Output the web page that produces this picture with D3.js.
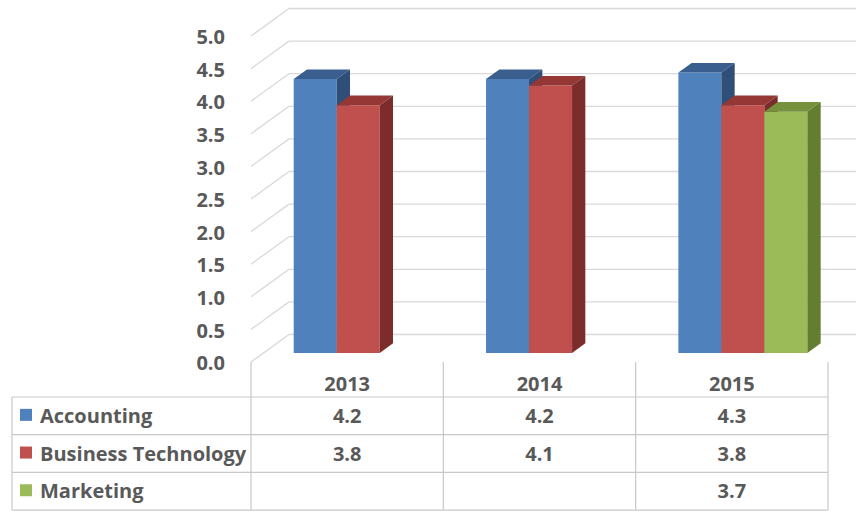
<!DOCTYPE html>
<html>
<head>
<meta charset="utf-8">
<script src="https://cdn.jsdelivr.net/npm/d3@7"></script>
<style>
  html, body { margin: 0; padding: 0; background: #fff; }
  svg { display: block; }
  text { font-family: "Open Sans", Lato, sans-serif; font-weight: bold; fill: #595959; }
</style>
</head>
<body>
<svg id="chart" width="856" height="512"></svg>
<script>
// ---- data ----
const categories = ["2013", "2014", "2015"];
const seriesNames = ["Accounting", "Business Technology", "Marketing"];
const accounting = [4.2, 4.2, 4.3];
const businessTechnology = [3.8, 4.1, 3.8];
const marketing = [null, null, 3.7];
const yTickLabels = ["0.0", "0.5", "1.0", "1.5", "2.0", "2.5", "3.0", "3.5", "4.0", "4.5", "5.0"];
const seriesColors = ["#4F81BD", "#C0504D", "#9BBB59"];
const topColors = ["#3A5F8E", "#953835", "#76923C"];
const sideColors = ["#2F4E78", "#7C2D2B", "#637D31"];

const seriesValues = [accounting, businessTechnology, marketing];

// ---- layout ----
const svg = d3.select("#chart");
const W = 856, H = 512;
const frontLeft = 251, frontRight = 828;
const depthDX = 38, depthDY = -27.5;
const barT0 = 0.33, barT1 = 0.68;
const fontSize = 20;

const x = d3.scaleBand().domain(categories).range([frontLeft, frontRight]).paddingInner(0).paddingOuter(0);
const groupW = 129;
const xs = d3.scaleBand().domain(seriesNames).range([0, groupW]);
const y = d3.scaleLinear().domain([0, 5]).range([362, 36]);
const tickVals = yTickLabels.map(Number);

function P(px, v, t) { return [px + depthDX * t, y(v) + depthDY * t]; }
function poly(pts) { return pts.map(p => p[0].toFixed(2) + "," + p[1].toFixed(2)).join(" "); }

const gridColor = "#d9d9d9";

// back wall gridlines + left wall diagonals
const grid = svg.append("g");
tickVals.forEach(v => {
  const b = P(frontLeft, v, 1);
  grid.append("line").attr("x1", b[0]).attr("y1", b[1]).attr("x2", W).attr("y2", b[1])
    .attr("stroke", gridColor).attr("stroke-width", 1.3);
  const f = P(frontLeft, v, 0);
  grid.append("line").attr("x1", f[0]).attr("y1", f[1]).attr("x2", b[0]).attr("y2", b[1])
    .attr("stroke", gridColor).attr("stroke-width", 1.3);
});

// y tick labels
svg.append("g").selectAll("text").data(yTickLabels).join("text")
  .attr("x", 225).attr("y", d => y(+d) + 1).attr("dy", "0.36em")
  .attr("text-anchor", "end").attr("font-size", fontSize)
  .text(d => d);

// bars
const bars = svg.append("g");
categories.forEach((cat, ci) => {
  seriesNames.forEach((sn, si) => {
    const v = seriesValues[si][ci];
    if (v == null) return;
    const xl = x(cat) + (x.bandwidth() - groupW) / 2 - 1.5 + xs(sn);
    const xr = xl + xs.bandwidth();
    bars.append("polygon").attr("points", poly([P(xl, 0, barT0), P(xr, 0, barT0), P(xr, v, barT0), P(xl, v, barT0)]))
      .attr("fill", seriesColors[si]);
    bars.append("polygon").attr("points", poly([P(xl, v, barT0), P(xr, v, barT0), P(xr, v, barT1), P(xl, v, barT1)]))
      .attr("fill", topColors[si]);
    bars.append("polygon").attr("points", poly([P(xr, 0, barT0), P(xr, 0, barT1), P(xr, v, barT1), P(xr, v, barT0)]))
      .attr("fill", sideColors[si]);
  });
});

// data table
const tableColor = "#c8c8c8";
const tableTop = 362, headerBottom = 397;
const rowH = 37.7;
const tableLeft = 12;
const tg = svg.append("g");
const rowLines = [0, 1, 2, 3].map(i => headerBottom + i * rowH);
rowLines.forEach(ry => {
  tg.append("line").attr("x1", tableLeft).attr("x2", frontRight).attr("y1", ry).attr("y2", ry)
    .attr("stroke", tableColor).attr("stroke-width", 1.2);
});
tg.append("line").attr("x1", tableLeft).attr("x2", tableLeft).attr("y1", headerBottom).attr("y2", rowLines[3])
  .attr("stroke", tableColor).attr("stroke-width", 1.2);
const colEdges = categories.map(c => x(c)).concat([frontRight]);
colEdges.forEach(cx => {
  tg.append("line").attr("x1", cx).attr("x2", cx).attr("y1", tableTop).attr("y2", rowLines[3])
    .attr("stroke", tableColor).attr("stroke-width", 1.2);
});

// header
tg.selectAll("text.hdr").data(categories).join("text").attr("class", "hdr")
  .attr("x", d => x(d) + x.bandwidth() / 2).attr("y", 391)
  .attr("text-anchor", "middle").attr("font-size", fontSize).text(d => d);

// rows
seriesNames.forEach((sn, si) => {
  const cy = headerBottom + si * rowH + rowH / 2;
  tg.append("rect").attr("x", 20).attr("y", cy - 7).attr("width", 12).attr("height", 12)
    .attr("fill", seriesColors[si]);
  tg.append("text").attr("x", 40).attr("y", cy + 7).attr("font-size", fontSize).text(sn);
  categories.forEach((cat, ci) => {
    const v = seriesValues[si][ci];
    if (v == null) return;
    tg.append("text").attr("x", x(cat) + x.bandwidth() / 2).attr("y", cy + 7)
      .attr("text-anchor", "middle").attr("font-size", fontSize).text(d3.format(".1f")(v));
  });
});
</script>
</body>
</html>
